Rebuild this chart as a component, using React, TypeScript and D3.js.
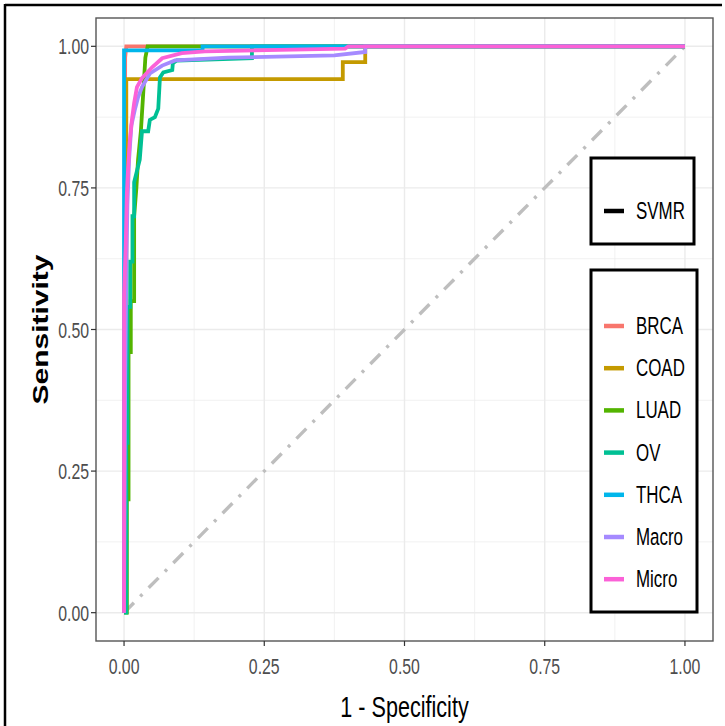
import React from "react";
import * as d3 from "d3";

const W = 725;
const H = 726;

const xTicks = [0, 0.25, 0.5, 0.75, 1];
const yTicks = [0, 0.25, 0.5, 0.75, 1];
const minorTicks = [0.125, 0.375, 0.625, 0.875];
const tickLabels = ["0.00", "0.25", "0.50", "0.75", "1.00"];

const classNames = ["BRCA", "COAD", "LUAD", "OV", "THCA", "Macro", "Micro"];
const classColors = ["#F8766D", "#C49A00", "#53B400", "#00C094", "#00B6EB", "#A58AFF", "#FB61D7"];

// [fpr, tpr] points
const brca: [number, number][] = [[0, 0], [0.002, 0.98], [0.004, 1], [1, 1]];
const coad: [number, number][] = [[0, 0], [0.004, 0.3], [0.004, 0.942], [0.39, 0.942], [0.39, 0.972], [0.43, 0.972], [0.43, 1], [1, 1]];
const luad: [number, number][] = [[0, 0], [0.005, 0], [0.005, 0.2], [0.008, 0.2], [0.008, 0.46], [0.012, 0.46], [0.012, 0.55], [0.018, 0.55], [0.018, 0.7], [0.022, 0.75], [0.025, 0.8], [0.03, 0.85], [0.035, 0.93], [0.038, 0.98], [0.042, 1], [1, 1]];
const ov: [number, number][] = [[0, 0], [0.004, 0], [0.004, 0.3], [0.006, 0.3], [0.006, 0.54], [0.011, 0.54], [0.011, 0.62], [0.015, 0.62], [0.015, 0.7], [0.018, 0.7], [0.018, 0.76], [0.023, 0.78], [0.028, 0.8], [0.032, 0.85], [0.043, 0.85], [0.046, 0.87], [0.055, 0.875], [0.061, 0.89], [0.064, 0.945], [0.07, 0.954], [0.086, 0.958], [0.087, 0.97], [0.094, 0.975], [0.228, 0.979], [0.228, 1], [1, 1]];
const thca: [number, number][] = [[0, 0], [0, 0.993], [0.14, 0.993], [0.14, 1], [1, 1]];
const macro: [number, number][] = [[0, 0], [0.002, 0.4], [0.004, 0.6], [0.006, 0.72], [0.009, 0.8], [0.013, 0.86], [0.019, 0.887], [0.025, 0.91], [0.032, 0.928], [0.046, 0.952], [0.068, 0.966], [0.091, 0.975], [0.185, 0.98], [0.375, 0.984], [0.43, 0.99], [0.43, 1], [1, 1]];
const micro: [number, number][] = [[0, 0], [0, 0.56], [0.003, 0.65], [0.005, 0.74], [0.007, 0.78], [0.01, 0.83], [0.014, 0.87], [0.018, 0.9], [0.023, 0.928], [0.032, 0.944], [0.05, 0.963], [0.068, 0.979], [0.103, 0.988], [0.144, 0.991], [0.394, 0.996], [0.4, 1], [1, 1]];
const classSeries = [brca, coad, luad, ov, thca, macro, micro];

const diagonal: [number, number][] = [[0, 0], [1, 1]];

const FONT = "'Liberation Sans', Arial, sans-serif";
const SX = 0.72;

function SText({ x, y, size, anchor = "start", fill = "#000", weight = "normal", rotate = false, children }: any) {
  const tr = rotate
    ? `translate(${x},${y}) rotate(-90) scale(1,${SX})`
    : `translate(${x},${y}) scale(${SX},1)`;
  return (
    <text transform={tr} fontSize={size} fontFamily={FONT} textAnchor={anchor} fill={fill} fontWeight={weight}>
      {children}
    </text>
  );
}

export default function App() {
  const x = d3.scaleLinear().domain([-0.05, 1.05]).range([96, 713]);
  const y = d3.scaleLinear().domain([-0.05, 1.05]).range([641, 18]);
  const line = d3.line<[number, number]>().x((d) => x(d[0])).y((d) => y(d[1]));
  const [x0, x1] = x.range();
  const [y0, y1] = y.range();

  const legendRows = classNames.map((n, i) => ({ n, c: classColors[i], cy: 326 + i * 42.2 }));

  return (
    <svg width={W} height={H} style={{ position: "absolute", left: 0, top: 0, background: "#fff" }}>
      <rect x={0} y={0} width={W} height={H} fill="#fff" />
      {/* outer frame */}
      <line x1={5} y1={5} x2={722} y2={5} stroke="#000" strokeWidth={2.5} />
      <line x1={5} y1={4} x2={5} y2={H} stroke="#000" strokeWidth={2.5} />

      {/* grid */}
      {minorTicks.map((t) => (
        <g key={"m" + t}>
          <line x1={x(t)} x2={x(t)} y1={y1} y2={y0} stroke="#ebebeb" strokeWidth={0.7} />
          <line x1={x0} x2={x1} y1={y(t)} y2={y(t)} stroke="#ebebeb" strokeWidth={0.7} />
        </g>
      ))}
      {xTicks.map((t) => (
        <line key={"gx" + t} x1={x(t)} x2={x(t)} y1={y1} y2={y0} stroke="#ebebeb" strokeWidth={1.4} />
      ))}
      {yTicks.map((t) => (
        <line key={"gy" + t} x1={x0} x2={x1} y1={y(t)} y2={y(t)} stroke="#ebebeb" strokeWidth={1.4} />
      ))}

      {/* diagonal */}
      <path d={line(diagonal) || ""} fill="none" stroke="#bebebe" strokeWidth={3.4} strokeDasharray="14 9 3 9" />

      {/* ROC curves */}
      {classSeries.map((s, i) => (
        <path key={classNames[i]} d={line(s) || ""} fill="none" stroke={classColors[i]} strokeWidth={3.8} strokeLinejoin="miter" />
      ))}

      {/* panel border */}
      <rect x={x0} y={y1} width={x1 - x0} height={y0 - y1} fill="none" stroke="#555" strokeWidth={1.4} />

      {/* axis ticks and labels */}
      {xTicks.map((t, i) => (
        <g key={"xt" + t}>
          <line x1={x(t)} x2={x(t)} y1={y0} y2={y0 + 5} stroke="#333" strokeWidth={1.2} />
          <SText x={x(t)} y={674} size={22} anchor="middle" fill="#4d4d4d">{tickLabels[i]}</SText>
        </g>
      ))}
      {yTicks.map((t, i) => (
        <g key={"yt" + t}>
          <line x1={x0 - 5} x2={x0} y1={y(t)} y2={y(t)} stroke="#333" strokeWidth={1.2} />
          <SText x={89} y={y(t) + 8} size={22} anchor="end" fill="#4d4d4d">{tickLabels[i]}</SText>
        </g>
      ))}

      <SText x={(x0 + x1) / 2} y={717} size={30} anchor="middle">1 - Specificity</SText>
      <SText x={48} y={(y0 + y1) / 2} size={30} anchor="middle" rotate weight="bold">Sensitivity</SText>

      {/* legend 1 */}
      <rect x={591} y={158} width={103} height={86} fill="#fff" stroke="#000" strokeWidth={3} />
      <line x1={604} x2={624} y1={211} y2={211} stroke="#000" strokeWidth={4.5} />
      <SText x={636} y={219} size={23.5}>SVMR</SText>

      {/* legend 2 */}
      <rect x={591} y={270} width={106} height={342} fill="#fff" stroke="#000" strokeWidth={3} />
      {legendRows.map((r) => (
        <g key={"lg" + r.n}>
          <line x1={604} x2={624} y1={r.cy} y2={r.cy} stroke={r.c} strokeWidth={4.5} />
          <SText x={636} y={r.cy + 8} size={23.5}>{r.n}</SText>
        </g>
      ))}
    </svg>
  );
}
